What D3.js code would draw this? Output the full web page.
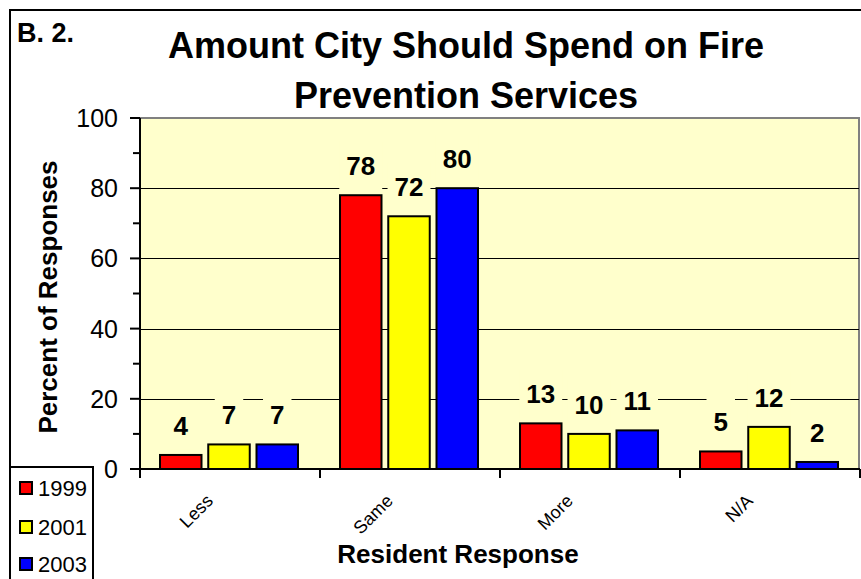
<!DOCTYPE html>
<html>
<head>
<meta charset="utf-8">
<script src="https://cdn.jsdelivr.net/npm/d3@7"></script>
<style>
  html, body { margin: 0; padding: 0; background: #fff; }
  svg { display: block; font-family: "Liberation Sans", Arial, sans-serif; }
</style>
</head>
<body>
<svg id="chart" width="861" height="579"></svg>
<script>
const categories = ["Less", "Same", "More", "N/A"];
const seriesNames = ["1999", "2001", "2003"];
const values1999 = [4, 78, 13, 5];
const values2001 = [7, 72, 10, 12];
const values2003 = [7, 80, 11, 2];
const seriesColors = ["#FF0000", "#FFFF00", "#0000FF"];
const yTicks = [0, 20, 40, 60, 80, 100];
const titleLines = ["Amount City Should Spend on Fire", "Prevention Services"];

const seriesValues = [values1999, values2001, values2003];
const svg = d3.select("#chart");
const plot = { left: 140, right: 859, top: 118, bottom: 469 };
const plotBg = "#FFFFCC";

const x0 = d3.scaleBand().domain(categories).range([plot.left, plot.right + 1]).padding(0);
const x1 = d3.scaleBand().domain(seriesNames).range([20, 158]).paddingInner(0.14).paddingOuter(0);
const y = d3.scaleLinear().domain([0, 100]).range([plot.bottom, plot.top]);

// outer border
svg.append("rect").attr("x", 10).attr("y", 10).attr("width", 900).attr("height", 700)
  .attr("fill", "none").attr("stroke", "#000").attr("stroke-width", 2);

// plot background
svg.append("rect").attr("x", plot.left).attr("y", plot.top)
  .attr("width", plot.right - plot.left).attr("height", plot.bottom - plot.top)
  .attr("fill", plotBg).attr("stroke", "#808080").attr("stroke-width", 2);

// gridlines
svg.append("g").selectAll("line").data(yTicks.filter(t => t > 0 && t < 100)).join("line")
  .attr("x1", plot.left).attr("x2", plot.right)
  .attr("y1", d => Math.round(y(d)) + 0.5).attr("y2", d => Math.round(y(d)) + 0.5)
  .attr("stroke", "#000").attr("stroke-width", 1);

// flatten data
const data = [];
categories.forEach((c, i) => {
  seriesNames.forEach((s, j) => {
    data.push({ cat: c, series: s, value: seriesValues[j][i], color: seriesColors[j] });
  });
});

// label backgrounds + labels (measured)
const labelG = svg.append("g");
const labels = labelG.selectAll("g.lbl").data(data).join("g").attr("class", "lbl");
labels.each(function(d) {
  const g = d3.select(this);
  const cx = x0(d.cat) + x1(d.series) + x1.bandwidth() / 2;
  const base = y(d.value) - 20;
  const t = g.append("text")
    .attr("x", cx).attr("y", base)
    .attr("text-anchor", "middle")
    .attr("font-size", 26).attr("font-weight", "bold")
    .attr("fill", "#000")
    .text(d3.format("d")(d.value));
  const w = t.node().getComputedTextLength();
  g.insert("rect", "text")
    .attr("x", cx - w / 2 - 7).attr("width", w + 14)
    .attr("y", base - 19 - 15).attr("height", 19 + 30)
    .attr("fill", plotBg);
});

// bars
svg.append("g").selectAll("rect").data(data).join("rect")
  .attr("x", d => x0(d.cat) + x1(d.series))
  .attr("width", x1.bandwidth())
  .attr("y", d => y(d.value))
  .attr("height", d => y(0) - y(d.value))
  .attr("fill", d => d.color)
  .attr("stroke", "#000").attr("stroke-width", 2);

// bring labels above bars
labelG.raise();

// y axis
const yAxis = svg.append("g");
yAxis.append("line").attr("x1", plot.left).attr("x2", plot.left)
  .attr("y1", plot.top).attr("y2", plot.bottom + 9)
  .attr("stroke", "#000").attr("stroke-width", 2);
const minorTicks = d3.range(10, 100, 20);
yAxis.selectAll("line.major").data(yTicks).join("line").attr("class", "major")
  .attr("x1", plot.left - 10).attr("x2", plot.left)
  .attr("y1", d => y(d)).attr("y2", d => y(d))
  .attr("stroke", "#000").attr("stroke-width", 2);
yAxis.selectAll("line.minor").data(minorTicks).join("line").attr("class", "minor")
  .attr("x1", plot.left - 7).attr("x2", plot.left)
  .attr("y1", d => y(d)).attr("y2", d => y(d))
  .attr("stroke", "#000").attr("stroke-width", 2);
yAxis.selectAll("text").data(yTicks).join("text")
  .attr("x", 118).attr("y", d => y(d)).attr("dy", "0.36em")
  .attr("text-anchor", "end").attr("font-size", 25).attr("fill", "#000")
  .text(d => d);

// x axis
const xAxis = svg.append("g");
xAxis.append("line").attr("x1", plot.left).attr("x2", plot.right + 1)
  .attr("y1", plot.bottom).attr("y2", plot.bottom)
  .attr("stroke", "#000").attr("stroke-width", 2);
const boundaries = categories.map(c => x0(c)).concat([x0(categories[categories.length - 1]) + x0.bandwidth()]);
xAxis.selectAll("line.tick").data(boundaries).join("line").attr("class", "tick")
  .attr("x1", d => Math.min(d, 860)).attr("x2", d => Math.min(d, 860))
  .attr("y1", plot.bottom).attr("y2", plot.bottom + 9)
  .attr("stroke", "#000").attr("stroke-width", 2);
xAxis.selectAll("text").data(categories).join("text")
  .attr("transform", d => `translate(${x0(d) + x0.bandwidth() / 2 - 16},${plot.bottom + 33}) rotate(-45)`)
  .attr("text-anchor", "end").attr("font-size", 18).attr("fill", "#000")
  .text(d => d);

// axis titles
svg.append("text").attr("x", 458).attr("y", 563).attr("text-anchor", "middle")
  .attr("font-size", 26).attr("font-weight", "bold").text("Resident Response");
svg.append("text").attr("transform", "translate(57,297) rotate(-90)")
  .attr("text-anchor", "middle").attr("font-size", 26).attr("font-weight", "bold")
  .text("Percent of Responses");

// title
svg.append("text").attr("x", 17).attr("y", 42).attr("font-size", 27).attr("font-weight", "bold").text("B. 2.");
svg.append("g").selectAll("text").data(titleLines).join("text")
  .attr("x", 466).attr("y", (d, i) => 58 + i * 50)
  .attr("text-anchor", "middle").attr("font-size", 36).attr("font-weight", "bold")
  .text(d => d);

// legend
const legend = svg.append("g");
legend.append("rect").attr("x", 10).attr("y", 467).attr("width", 83).attr("height", 200)
  .attr("fill", "#fff").attr("stroke", "#000").attr("stroke-width", 2);
const legendYs = [488, 527, 564];
const items = legend.selectAll("g.item").data(seriesNames).join("g").attr("class", "item");
items.append("rect").attr("x", 20).attr("y", (d, i) => legendYs[i] - 6)
  .attr("width", 12).attr("height", 12)
  .attr("fill", (d, i) => seriesColors[i]).attr("stroke", "#000").attr("stroke-width", 2);
items.append("text").attr("x", 38).attr("y", (d, i) => legendYs[i]).attr("dy", "0.36em")
  .attr("font-size", 22).attr("fill", "#000").text(d => d);
</script>
</body>
</html>
